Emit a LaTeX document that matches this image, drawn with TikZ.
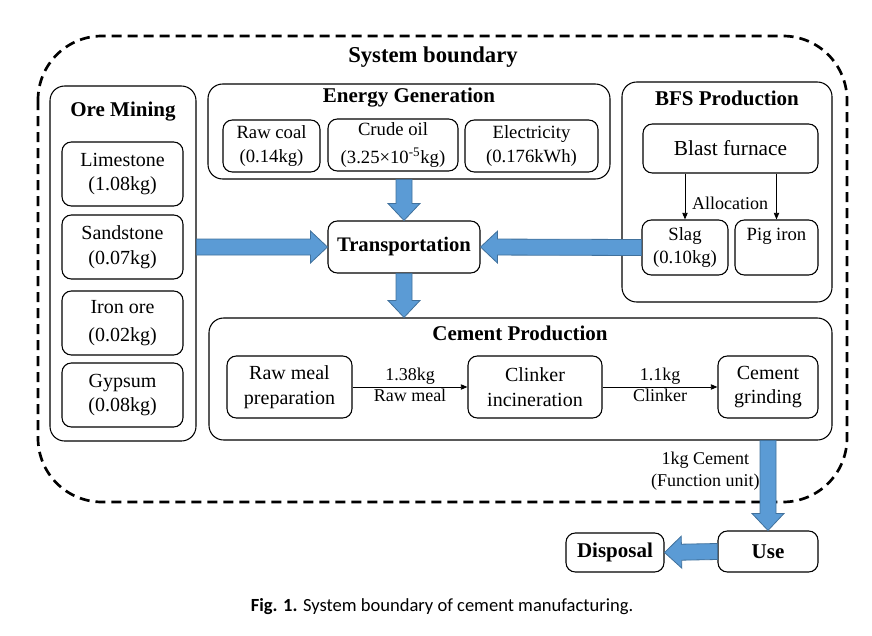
\documentclass[tikz,border=0pt]{standalone}
\usepackage{fontspec}
\setmainfont{Liberation Serif}
\newfontfamily\capfont{Carlito}
\usetikzlibrary{calc,arrows.meta}
\definecolor{arrfill}{RGB}{91,155,213}
\definecolor{arrline}{RGB}{65,113,156}
\newcommand\fatarrow[2]{%
  \path ($(#2)!12.75pt!(#1)$) coordinate (fh);
  \filldraw[fatarr] ($(#1)!6pt!90:(#2)$) -- ($(fh)!6pt!90:(#2)$) -- ($(fh)!12pt!90:(#2)$) -- (#2) -- ($(fh)!12pt!-90:(#2)$) -- ($(fh)!6pt!-90:(#2)$) -- ($(#1)!6pt!-90:(#2)$) -- cycle;}
\tikzset{
  wh/.style 2 args={minimum width=#1*0.75pt, minimum height=#2*0.75pt},
  grp/.style={draw, line width=0.8pt, rounded corners=11pt, inner sep=0pt},
  bx/.style={draw, line width=0.8pt, rounded corners=7pt, inner sep=0pt, align=center, font=\fontsize{15}{18.5}\selectfont},
  sbx/.style={bx, font=\fontsize{14}{17.5}\selectfont},
  ttl/.style={font=\fontsize{15.75}{18}\selectfont\bfseries, inner sep=0pt},
  fatarr/.style={fill=arrfill, draw=arrline, line width=0.6pt, line join=miter},
  lbl/.style={font=\fontsize{13.5}{16}\selectfont, align=center, inner sep=1.5pt},
  thinarr/.style={line width=0.7pt, -{Triangle[length=5pt,width=4pt]}}
}
\begin{document}
\begin{tikzpicture}[x=0.75pt, y=-0.75pt]
\useasboundingbox (0,0) rectangle (872,636);
% system boundary
\draw[line width=2pt, dash pattern=on 7.5pt off 4.5pt, rounded corners=48pt] (38,36) rectangle (847,502);
\node[font=\fontsize{17}{20}\selectfont\bfseries] (sbt) at (433,57) {System boundary};

% Ore mining
\node[grp, wh={146}{355}] (ore) at (123,263.5) {};
\node[ttl] (oret) at (123,112) {Ore Mining};
\node[bx, wh={121}{64}] (lime) at (122.5,174) {Limestone\\(1.08kg)};
\node[bx, wh={121}{64}] (sand) at (122.5,247) {Sandstone\\(0.07kg)};
\node[bx, wh={121}{64}] (iron) at (122.5,323) {Iron ore\\[3pt](0.02kg)};
\node[bx, wh={121}{64}] (gyp) at (122.5,395) {Gypsum\\(0.08kg)};

% Energy generation
\node[grp, wh={402}{95}] (energy) at (409,131.5) {};
\node[ttl] (energyt) at (409,98) {Energy Generation};
\node[sbx, wh={97}{52}] (coal) at (271.5,146) {Raw coal\\(0.14kg)};
\node[sbx, wh={130}{52}] (oil) at (393,145) {Crude oil\\[4pt](3.25×10\textsuperscript{-5}kg)};
\node[sbx, wh={133}{52}] (elec) at (531.5,146) {Electricity\\(0.176kWh)};

% Transportation
\node[bx, wh={152}{52}, font=\fontsize{15.5}{18}\selectfont\bfseries] (tr) at (404,247) {Transportation};

% BFS production
\node[grp, wh={210}{220}] (bfs) at (727,192) {};
\node[ttl] (bfst) at (727,98) {BFS Production};
\node[bx, wh={175}{49}, font=\fontsize{16}{18}\selectfont] (bf) at (730.5,148.5) {Blast furnace};
\node[sbx, wh={86}{55}] (slag) at (685,247.5) {Slag\\(0.10kg)};
\node[sbx, wh={83}{55}] (pig) at (776.5,247.5) {Pig iron\\\phantom{(0.10kg)}};
\node[lbl] (alloc) at (730,203) {Allocation};
\draw[thinarr] (bf.south -| slag.north) -- (slag.north);
\draw[thinarr] (bf.south -| pig.north) -- (pig.north);

% Cement production
\node[grp, wh={623}{122}] (cp) at (520.5,379) {};
\node[ttl] (cpt) at (520,333) {Cement Production};
\node[bx, wh={125}{62}] (rm) at (289.5,387) {Raw meal\\preparation};
\node[bx, wh={134}{62}] (ci) at (535,387) {Clinker\\incineration};
\node[bx, wh={100}{62}] (cg) at (768,387) {Cement\\grinding};
\draw[thinarr] (rm.east) -- node[lbl, above] (l1) {1.38kg} node[lbl, below] (l2) {Raw meal} (ci.west);
\draw[thinarr] (ci.east) -- node[lbl, above] (l3) {1.1kg} node[lbl, below] (l4) {Clinker} (cg.west);

% Use and disposal
\node[bx, wh={100}{41}, font=\fontsize{15.75}{18}\selectfont\bfseries] (use) at (768,551.5) {Use};
\node[bx, wh={98}{39}, font=\fontsize{15.75}{18}\selectfont\bfseries] (disp) at (615,552.5) {Disposal};
\node[lbl, anchor=east] (fu) at (762,471) {1kg Cement\\(Function unit)};

% fat arrows
\coordinate (a1) at (ore.east |- tr.west);
\fatarrow{a1}{tr.west}
\coordinate (a2) at (energy.south -| tr.north);
\fatarrow{a2}{tr.north}
\fatarrow{slag.west}{tr.east}
\coordinate (a3) at (tr.south |- cp.north);
\fatarrow{tr.south}{a3}
\coordinate (a4) at (cp.south -| use.north);
\fatarrow{a4}{use.north}
\fatarrow{use.west}{disp.east}

% caption
\node[font=\capfont\fontsize{13.9}{16}\selectfont, inner sep=0pt] (cap) at (442,607) {\textbf{Fig. 1.} System boundary of cement manufacturing.};
\end{tikzpicture}
\end{document}
